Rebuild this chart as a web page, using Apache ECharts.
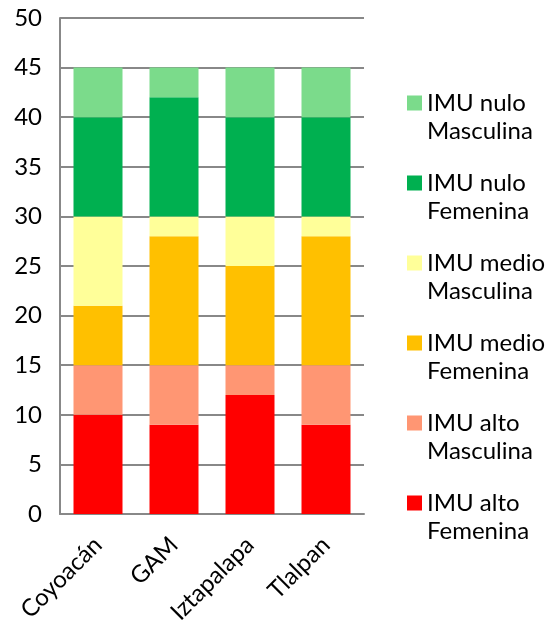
<!DOCTYPE html>
<html><head><meta charset="utf-8">
<script src="https://cdn.jsdelivr.net/npm/echarts@6/dist/echarts.min.js"></script>
<style>html,body{margin:0;padding:0;background:#fff}#c{width:552px;height:630px}</style>
</head><body><div id="c"></div>
<script>
const categories = ['Coyoacán', 'GAM', 'Iztapalapa', 'Tlalpan'];
const altoFem = [10, 9, 12, 9];
const altoMas = [5, 6, 3, 6];
const medioFem = [6, 13, 10, 13];
const medioMas = [9, 2, 5, 2];
const nuloFem = [10, 12, 10, 10];
const nuloMas = [5, 3, 5, 5];
const seriesNames = ['IMU alto\nFemenina', 'IMU alto\nMasculina', 'IMU medio\nFemenina', 'IMU medio\nMasculina', 'IMU nulo\nFemenina', 'IMU nulo\nMasculina'];
const seriesData = [altoFem, altoMas, medioFem, medioMas, nuloFem, nuloMas];
const colors = ['#FF0000', '#FF9673', '#FFC000', '#FFFF99', '#00B050', '#7BDB8B'];
const font = 'Lato, "Open Sans", sans-serif';

const chart = echarts.init(document.getElementById('c'), null, {renderer: 'canvas'});
chart.setOption({
  animation: false,
  color: colors,
  grid: {left: 60, right: 188, top: 18, bottom: 116, containLabel: false},
  legend: {
    orient: 'vertical',
    left: 402,
    top: 84,
    itemWidth: 15,
    itemHeight: 43,
    itemGap: 24,
    icon: 'path://M0,0L15,0L15,15L0,15Z M0,43L0.01,43',
    data: seriesNames.slice().reverse(),
    textStyle: {fontFamily: font, fontSize: 24, color: '#000', lineHeight: 28},
    itemStyle: {borderWidth: 0}
  },
  xAxis: {
    type: 'category',
    data: categories,
    axisLine: {lineStyle: {color: '#888', width: 2}},
    axisTick: {show: false},
    axisLabel: {rotate: 45, fontFamily: font, fontSize: 24, color: '#000', margin: 27, interval: 0}
  },
  yAxis: {
    type: 'value',
    min: 0, max: 50, interval: 5,
    axisLine: {show: true, lineStyle: {color: '#888', width: 2}},
    axisTick: {show: false},
    splitLine: {lineStyle: {color: '#888', width: 2}},
    axisLabel: {fontFamily: font, fontSize: 24, color: '#000', margin: 18}
  },
  series: seriesNames.map((n, i) => ({
    name: n,
    type: 'bar',
    stack: 'total',
    data: seriesData[i],
    barWidth: 49,
    itemStyle: {color: colors[i]}
  }))
});
</script></body></html>
